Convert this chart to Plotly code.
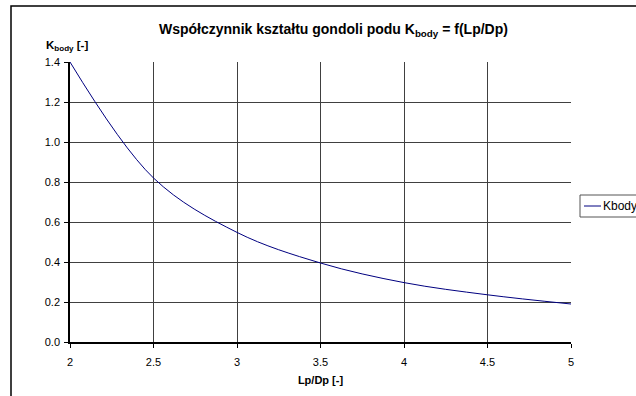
import plotly.graph_objects as go

# Data
lp_dp = [2.0, 2.5, 3.0, 3.5, 4.0, 4.5, 5.0]
k_body = [1.40, 0.82, 0.548, 0.395, 0.297, 0.236, 0.19]
series_name = "Kbody"
x_ticks = [2, 2.5, 3, 3.5, 4, 4.5, 5]
x_tick_labels = ["2", "2.5", "3", "3.5", "4", "4.5", "5"]
y_ticks = [0.0, 0.2, 0.4, 0.6, 0.8, 1.0, 1.2, 1.4]
y_tick_labels = ["0.0", "0.2", "0.4", "0.6", "0.8", "1.0", "1.2", "1.4"]

FONT = "Liberation Sans, Arial, sans-serif"
LINE_COLOR = "#000080"

W, H = 636, 396
L, R, T, B = 70, 65, 62, 54
pw, ph = W - L - R, H - T - B


def px_x(p):
    return (p - L) / pw


def px_y(p):
    return (H - B - p) / ph


fig = go.Figure()
fig.add_trace(go.Scatter(x=lp_dp, y=k_body, mode="lines", name=series_name,
                         line=dict(color=LINE_COLOR, width=1, shape="spline", smoothing=1.0),
                         showlegend=False))

axis_common = dict(showgrid=True, gridcolor="#404040", gridwidth=1,
                   showline=True, linecolor="black", linewidth=1.5,
                   ticks="outside", ticklen=4, tickcolor="black",
                   tickfont=dict(family=FONT, size=11, color="black"),
                   zeroline=False, automargin=False)

fig.update_xaxes(range=[2, 5], tickvals=x_ticks, ticktext=x_tick_labels,
                 ticklabelstandoff=5,
                 title=dict(text="<b>Lp/Dp [-]</b>", font=dict(family=FONT, size=11, color="black"), standoff=9),
                 **axis_common)
fig.update_yaxes(range=[0, 1.4], tickvals=y_ticks, ticktext=y_tick_labels,
                 ticklabelstandoff=2, **axis_common)

shapes = [
    # outer chart frame (extends past the visible window on right/bottom)
    dict(type="rect", xref="paper", yref="paper",
         x0=px_x(11), x1=px_x(700), y0=px_y(460), y1=px_y(6),
         line=dict(color="black", width=1.5), fillcolor="rgba(0,0,0,0)", layer="below"),
    # legend box
    dict(type="rect", xref="paper", yref="paper",
         x0=px_x(580), x1=px_x(660), y0=px_y(217), y1=px_y(195),
         line=dict(color="#555555", width=1), fillcolor="white"),
    # legend sample line
    dict(type="line", xref="paper", yref="paper",
         x0=px_x(584), x1=px_x(601), y0=px_y(206), y1=px_y(206),
         line=dict(color=LINE_COLOR, width=1)),
]

annotations = [
    dict(text="<b>Współczynnik kształtu gondoli podu K<sub>body</sub> = f(Lp/Dp)</b>",
         xref="paper", yref="paper", x=px_x(333), y=px_y(30),
         xanchor="center", yanchor="middle", showarrow=False,
         font=dict(family=FONT, size=14, color="black")),
    dict(text="<b>K<sub>body</sub> [-]</b>",
         xref="paper", yref="paper", x=px_x(44), y=px_y(46),
         xanchor="left", yanchor="middle", showarrow=False,
         font=dict(family=FONT, size=11.5, color="black")),
    dict(text=series_name,
         xref="paper", yref="paper", x=px_x(601), y=px_y(206),
         xanchor="left", yanchor="middle", showarrow=False,
         font=dict(family=FONT, size=12, color="black")),
]

fig.update_layout(width=W, height=H, margin=dict(l=L, r=R, t=T, b=B),
                  paper_bgcolor="white", plot_bgcolor="white",
                  shapes=shapes, annotations=annotations,
                  font=dict(family=FONT, color="black"))

fig.write_html("out.html", config={"displayModeBar": False})
